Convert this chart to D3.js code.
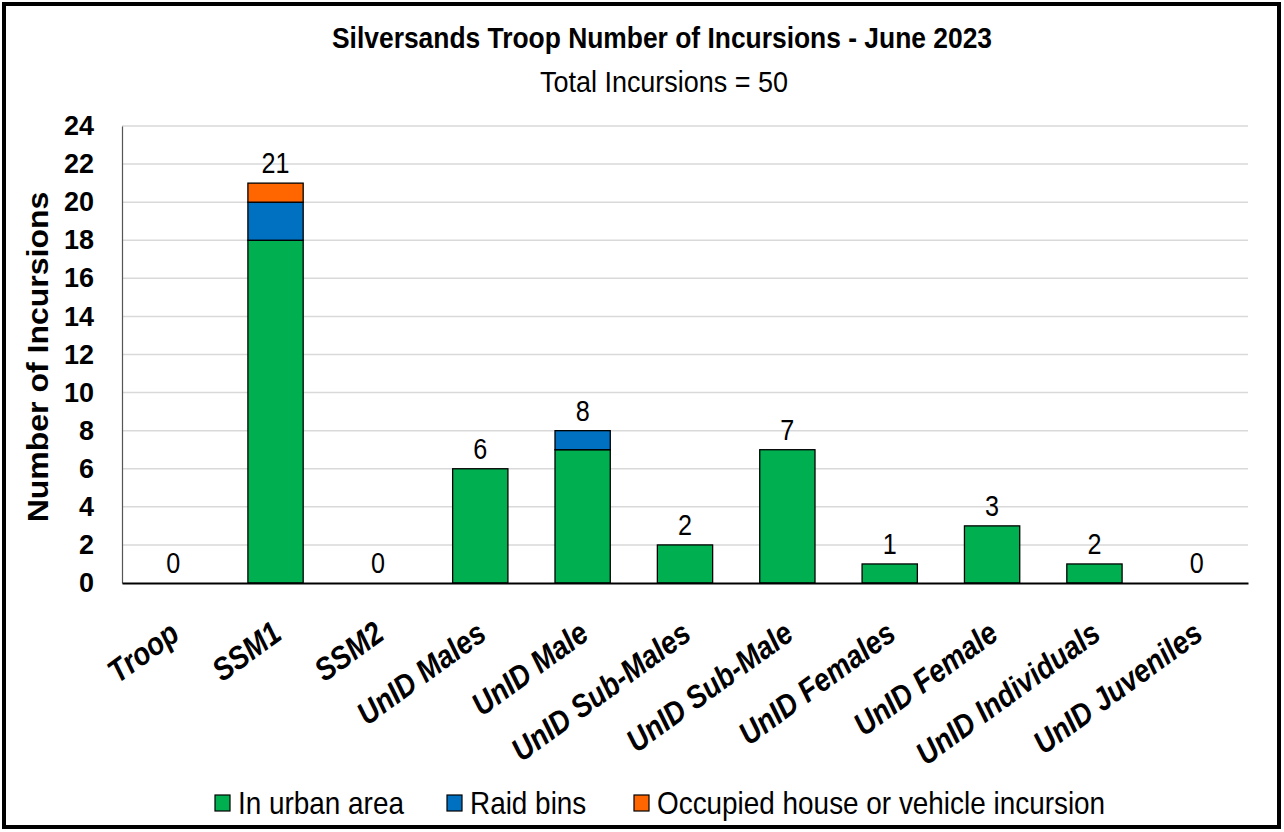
<!DOCTYPE html>
<html>
<head>
<meta charset="utf-8">
<script src="https://cdn.jsdelivr.net/npm/d3@7/dist/d3.min.js"></script>
<style>
  html, body { margin: 0; padding: 0; background: #fff; }
  svg { display: block; }
</style>
</head>
<body>
<svg id="chart" width="1284" height="832"></svg>
<script>
const categories = ["Troop", "SSM1", "SSM2", "UnID Males", "UnID Male", "UnID Sub-Males",
  "UnID Sub-Male", "UnID Females", "UnID Female", "UnID Individuals", "UnID Juveniles"];
const urbanArea = [0, 18, 0, 6, 7, 2, 7, 1, 3, 1, 0];
const raidBins = [0, 2, 0, 0, 1, 0, 0, 0, 0, 0, 0];
const occupiedHouse = [0, 1, 0, 0, 0, 0, 0, 0, 0, 0, 0];
const totalLabels = [0, 21, 0, 6, 8, 2, 7, 1, 3, 2, 0];
const seriesNames = ["In urban area", "Raid bins", "Occupied house or vehicle incursion"];
const seriesColors = ["#00b050", "#0070c0", "#ff6600"];
const yTicks = [0, 2, 4, 6, 8, 10, 12, 14, 16, 18, 20, 22, 24];
const titleText = "Silversands Troop Number of Incursions - June 2023";
const subtitleText = "Total Incursions = 50";
const yAxisTitle = "Number of Incursions";

const FONT = "'Liberation Sans', Arial, sans-serif";

const svg = d3.select("#chart");

// outer frame
svg.append("rect").attr("x", 4).attr("y", 4).attr("width", 1275).attr("height", 823)
  .attr("fill", "#fff").attr("stroke", "#000").attr("stroke-width", 4);

const plotLeft = 122, plotRight = 1248, plotTop = 126, plotBottom = 583;

const x = d3.scaleBand().domain(categories).range([plotLeft, plotRight])
  .paddingInner(0.46).paddingOuter(0.23);
const y = d3.scaleLinear().domain([0, 24]).range([plotBottom, plotTop]);

// gridlines
svg.append("g").selectAll("line").data(yTicks.filter(t => t > 0)).join("line")
  .attr("x1", plotLeft).attr("x2", plotRight)
  .attr("y1", d => y(d)).attr("y2", d => y(d))
  .attr("stroke", "#d9d9d9").attr("stroke-width", 1.5);

// stacked data
const rows = categories.map((c, i) => ({ cat: c, s0: urbanArea[i], s1: raidBins[i], s2: occupiedHouse[i] }));
const stacked = d3.stack().keys(["s0", "s1", "s2"])(rows);

svg.append("g").selectAll("g").data(stacked).join("g")
  .attr("fill", (d, i) => seriesColors[i])
  .selectAll("rect").data(d => d.filter(p => p[1] - p[0] > 0)).join("rect")
  .attr("x", d => x(d.data.cat))
  .attr("width", x.bandwidth())
  .attr("y", d => y(d[1]))
  .attr("height", d => y(d[0]) - y(d[1]))
  .attr("stroke", "#000").attr("stroke-width", 1.3);

// axes
const yAxis = d3.axisLeft(y).tickValues(yTicks).tickSize(0).tickPadding(28);
const gy = svg.append("g").attr("transform", `translate(${plotLeft},0)`).call(yAxis);
gy.select(".domain").attr("stroke", "#555").attr("stroke-width", 1.2);
gy.selectAll("text").attr("font-family", FONT).attr("font-weight", "bold")
  .attr("font-size", 27).attr("fill", "#000");

const xAxis = d3.axisBottom(x).tickSize(0).tickPadding(0);
const gx = svg.append("g").attr("transform", `translate(0,${plotBottom})`).call(xAxis);
gx.select(".domain").attr("stroke", "#000").attr("stroke-width", 2);
gx.selectAll(".tick text")
  .attr("font-family", FONT).attr("font-weight", "bold").attr("font-style", "italic")
  .attr("font-size", 32).attr("fill", "#000")
  .attr("text-anchor", "end")
  .attr("dy", null).attr("y", 0)
  .attr("transform", "translate(8,55) rotate(-36) scale(0.87,1)");

// data labels
svg.append("g").selectAll("text").data(categories).join("text")
  .attr("transform", (d, i) =>
    `translate(${x(d) + x.bandwidth() / 2},${y(urbanArea[i] + raidBins[i] + occupiedHouse[i]) - 10}) scale(0.84,1)`)
  .attr("text-anchor", "middle")
  .attr("font-family", FONT).attr("font-size", 30).attr("fill", "#000")
  .text((d, i) => totalLabels[i]);

// titles
svg.append("text").attr("transform", "translate(662,48) scale(0.88,1)").attr("text-anchor", "middle")
  .attr("font-family", FONT).attr("font-weight", "bold").attr("font-size", 30)
  .text(titleText);
svg.append("text").attr("transform", "translate(664,92) scale(0.9,1)").attr("text-anchor", "middle")
  .attr("font-family", FONT).attr("font-size", 30)
  .text(subtitleText);

// y axis title
svg.append("text").attr("transform", "translate(48,357) rotate(-90) scale(1,0.92)")
  .attr("text-anchor", "middle")
  .attr("font-family", FONT).attr("font-weight", "bold").attr("font-size", 32)
  .text(yAxisTitle);

// legend
const legendX = [215, 447, 634];
const lg = svg.append("g").selectAll("g").data(seriesNames).join("g")
  .attr("transform", (d, i) => `translate(${legendX[i]},803)`);
lg.append("rect").attr("x", 0).attr("y", -8).attr("width", 15).attr("height", 16)
  .attr("fill", (d, i) => seriesColors[i]).attr("stroke", "#000").attr("stroke-width", 1.2);
lg.append("text").attr("transform", "translate(23,11) scale(0.9,1)")
  .attr("font-family", FONT).attr("font-size", 31).attr("fill", "#000")
  .text(d => d);
</script>
</body>
</html>
